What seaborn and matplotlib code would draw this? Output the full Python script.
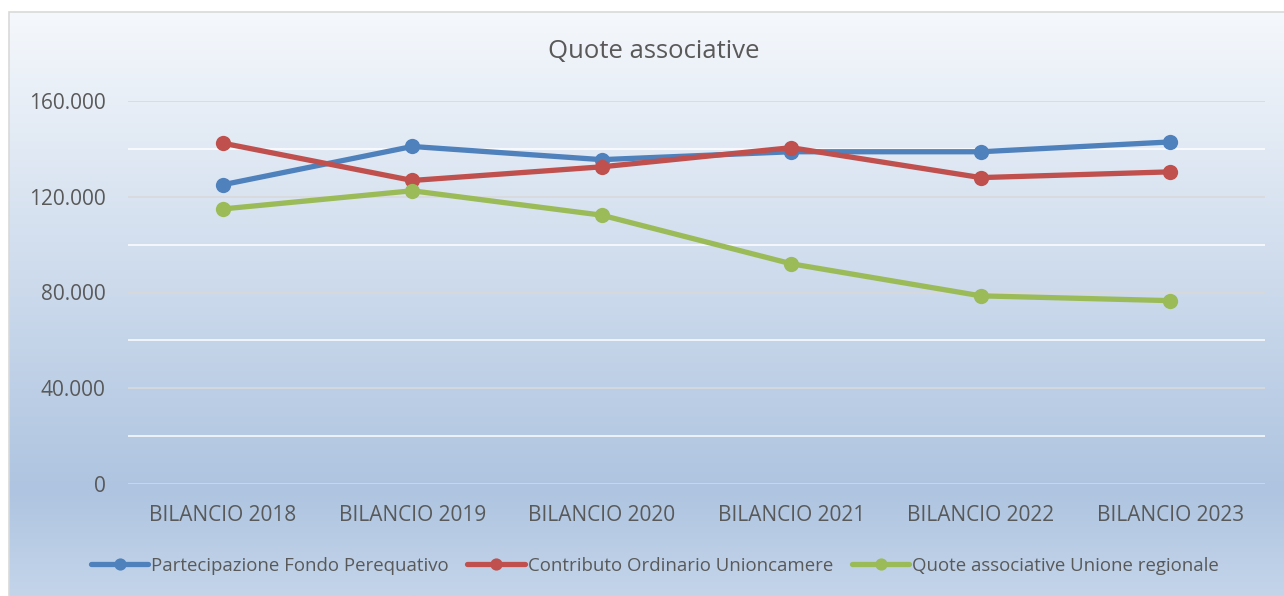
import numpy as np
import pandas as pd
import matplotlib.pyplot as plt
import seaborn as sns
from matplotlib.colors import LinearSegmentedColormap
from matplotlib.patches import Rectangle

years = ['BILANCIO 2018', 'BILANCIO 2019', 'BILANCIO 2020', 'BILANCIO 2021', 'BILANCIO 2022', 'BILANCIO 2023']
fondo = [125000, 141000, 135500, 138800, 138800, 142900]
contributo = [142400, 126800, 132500, 140500, 128000, 130400]
quote_ur = [114900, 122500, 112300, 92000, 78600, 76600]
series_names = ['Partecipazione Fondo Perequativo', 'Contributo Ordinario Unioncamere',
                'Quote associative Unione regionale']
colors = ['#4f81bd', '#c0504d', '#9bbb59']

df = pd.DataFrame({
    'anno': years * 3,
    'valore': fondo + contributo + quote_ur,
    'serie': [series_names[0]] * 6 + [series_names[1]] * 6 + [series_names[2]] * 6,
})

sns.set_style('white')
plt.rcParams['font.family'] = ['Open Sans', 'DejaVu Sans']
txt = '#595959'

fig = plt.figure(figsize=(12.84, 5.96), dpi=100)

# gradient background of the chart area
bg = fig.add_axes([0, 0, 1, 1], zorder=-10)
cmap = LinearSegmentedColormap.from_list('bg', [(0, '#f5f8fc'), (0.82, '#aec4e0'), (1, '#c4d5ea')])
grad = np.linspace(0, 1, 256).reshape(-1, 1)
bg.imshow(grad, aspect='auto', cmap=cmap, extent=[9 / 1284, 1, 0, 1 - 12 / 596], origin='upper')
bg.add_patch(Rectangle((9 / 1284, -0.01), 1, 1 - 12 / 596 + 0.01, fill=False, ec='#d9d9d9', lw=1.2))
bg.set_xlim(0, 1)
bg.set_ylim(0, 1)
bg.axis('off')

ax = fig.add_axes([128 / 1284, 1 - 484 / 596, (1265 - 128) / 1284, (484 - 101) / 596])
ax.patch.set_alpha(0)

sns.lineplot(data=df, x='anno', y='valore', hue='serie', palette=colors, marker='o',
             markersize=11, markeredgewidth=0, linewidth=3.8, sort=False, ax=ax, zorder=3)

ax.set_xlim(-0.5, 5.5)
ax.set_ylim(0, 160000)
ax.set_yticks(range(0, 160001, 40000))
ax.set_yticks(range(20000, 160000, 40000), minor=True)
ax.set_yticklabels(['0' if v == 0 else f'{v:,}'.replace(',', '.') for v in range(0, 160001, 40000)])
ax.grid(axis='y', which='major', color='#d9d9d9', lw=1.2, zorder=1)
ax.grid(axis='y', which='minor', color='#ffffff', lw=1.2, alpha=0.9, zorder=1)
ax.tick_params(axis='both', which='both', length=0, colors=txt, labelsize=15)
ax.tick_params(axis='x', pad=15)
ax.tick_params(axis='y', pad=16)
for s in ax.spines.values():
    s.set_visible(False)
ax.set_xlabel('')
ax.set_ylabel('')

fig.text(0.509, 1 - 52 / 596, 'Quote associative', ha='center', va='center', fontsize=18.5, color=txt)

handles, labels = ax.get_legend_handles_labels()
ax.legend_.remove()
fig.legend(handles, labels, loc='center', bbox_to_anchor=(0.51, 1 - 566 / 596), ncol=3, frameon=False,
           fontsize=13.4, labelcolor=txt, handlelength=3.1, handletextpad=0.15, columnspacing=1.0,
           markerscale=0.8)

fig.savefig('out.png', dpi=100)
